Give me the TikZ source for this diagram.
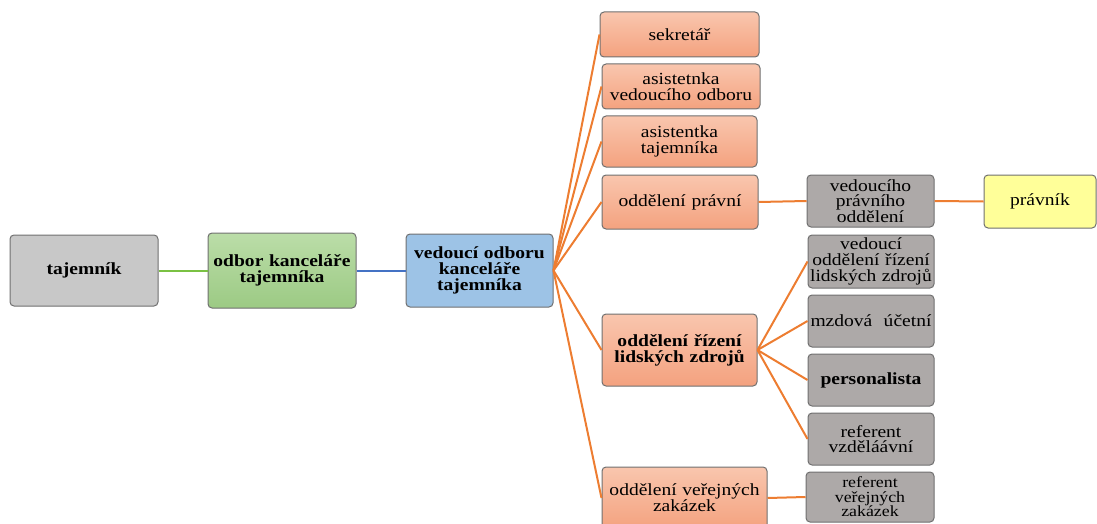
\documentclass[tikz,border=0pt]{standalone}
\usepackage{fontspec}
\setmainfont{Liberation Serif}[FakeStretch=1.15]
\definecolor{orl}{HTML}{F9C6AE}
\definecolor{ord}{HTML}{F4A27F}
\definecolor{grl}{HTML}{BBDDA8}
\definecolor{grd}{HTML}{9CCA84}
\definecolor{blu}{HTML}{9DC3E6}
\definecolor{gr1}{HTML}{C8C8C8}
\definecolor{gr2}{HTML}{ADA9A8}
\definecolor{yel}{HTML}{FFFF99}
\definecolor{edge}{HTML}{707070}
\definecolor{lor}{HTML}{ED7D31}
\definecolor{lgr}{HTML}{7AC143}
\definecolor{lbl}{HTML}{4472C4}
\tikzset{
  box/.style={draw=edge, line width=1pt, rounded corners=4pt, inner sep=0pt, align=center,
     font=\fontsize{17}{15.8}\selectfont},
  boldbox/.style={box, font=\fontsize{17}{16}\selectfont\bfseries},
  orbox/.style={box, top color=orl, bottom color=ord},
  grbox/.style={box, fill=gr2},
  conn/.style={line width=2pt},
}
\begin{document}
\begin{tikzpicture}[x=1pt,y=-1pt]
\useasboundingbox (0,0) rectangle (1097,524);
\clip (0,0) rectangle (1097,524);
% level 0-2
\node[boldbox, fill=gr1, minimum width=148pt, minimum height=71pt, text width=140pt] (taj) at (84,270.5) {tajemník};
\node[boldbox, top color=grl, bottom color=grd, minimum width=148pt, minimum height=75pt, text width=146pt] (odb) at (282,270.5) {odbor kanceláře\\tajemníka};
\node[boldbox, fill=blu, minimum width=147pt, minimum height=73pt, text width=145pt] (ved) at (479.5,270.5) {vedoucí odboru\\kanceláře\\tajemníka};
% orange
\node[orbox, minimum width=159pt, minimum height=45pt, text width=155pt] (sek) at (679.5,34.5) {sekretář};
\node[orbox, minimum width=158pt, minimum height=45pt, text width=156pt] (asv) at (681,86.5) {asistetnka\\vedoucího odboru};
\node[orbox, minimum width=155pt, minimum height=51pt, text width=151pt] (ast) at (679.5,141.5) {asistentka\\tajemníka};
\node[orbox, minimum width=156pt, minimum height=54pt, text width=152pt] (prv) at (680,202) {oddělení právní};
\node[orbox, minimum width=155pt, minimum height=72pt, text width=153pt, font=\fontsize{17}{16}\selectfont\bfseries] (rlz) at (679.5,350) {oddělení řízení\\lidských zdrojů};
\node[orbox, minimum width=165pt, minimum height=62pt, text width=163pt] (vz) at (684.5,498) {oddělení veřejných\\zakázek};
% grey
\node[grbox, minimum width=127pt, minimum height=52pt, text width=125pt] (vpo) at (870.5,201) {vedoucího\\právního\\oddělení};
\node[box, fill=yel, minimum width=112pt, minimum height=53pt, text width=108pt] (prk) at (1040,201.5) {právník};
\node[grbox, minimum width=126pt, minimum height=53pt, text width=126pt] (vor) at (871,261.5) {vedoucí\\oddělení řízení\\lidských zdrojů};
\node[grbox, minimum width=126pt, minimum height=52pt, text width=124pt] (mzd) at (871,321) {mzdová\ \ účetní};
\node[grbox, minimum width=126pt, minimum height=52pt, text width=124pt, font=\fontsize{17}{16}\selectfont\bfseries] (per) at (871,380) {personalista};
\node[grbox, minimum width=126pt, minimum height=52pt, text width=124pt] (rfv) at (871,439) {referent\\vzděláávní};
\node[grbox, minimum width=128pt, minimum height=50pt, text width=126pt, font=\fontsize{15.5}{14.5}\selectfont] (rvz) at (870,497) {referent\\veřejných\\zakázek};
% connectors
\draw[conn, lgr] (taj.east) -- (odb.west);
\draw[conn, lbl] (odb.east) -- (ved.west);
\foreach \t in {sek,asv,ast,prv,rlz,vz}
  \draw[conn, lor] (ved.east) -- (\t.west);
\draw[conn, lor] (prv.east) -- (vpo.west);
\draw[conn, lor] (vpo.east) -- (prk.west);
\foreach \t in {vor,mzd,per,rfv}
  \draw[conn, lor] (rlz.east) -- (\t.west);
\draw[conn, lor] (vz.east) -- (rvz.west);
\end{tikzpicture}
\end{document}
